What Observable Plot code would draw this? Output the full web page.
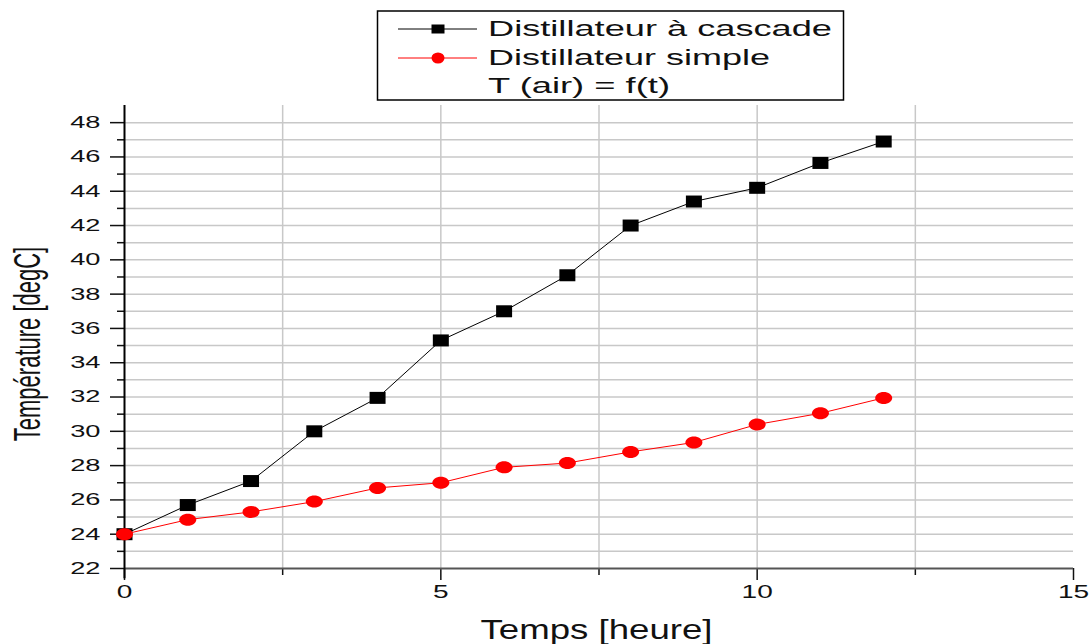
<!DOCTYPE html>
<html>
<head>
<meta charset="utf-8">
<script src="https://cdn.jsdelivr.net/npm/d3@7"></script>
<script src="https://cdn.jsdelivr.net/npm/@observablehq/plot@0.6"></script>
<style>
  html, body { margin: 0; padding: 0; background: #fff; }
  #wrap { position: relative; width: 1089px; height: 644px; overflow: hidden; }
  #legend { position: absolute; left: 0; top: 0; pointer-events: none; }
</style>
</head>
<body>
<div id="wrap"></div>
<script>
// ---- data ----
const hours = [0, 1, 2, 3, 4, 5, 6, 7, 8, 9, 10, 11, 12];
const cascade = [24.0, 25.7, 27.1, 30.0, 31.95, 35.3, 37.0, 39.1, 42.0, 43.4, 44.2, 45.65, 46.9];
const simple = [24.0, 24.85, 25.3, 25.9, 26.7, 27.0, 27.9, 28.15, 28.8, 29.35, 30.4, 31.05, 31.95];
const seriesNames = ["Distillateur à cascade", "Distillateur simple", "T (air) = f(t)"];
const xTicks = [0, 5, 10, 15];
const xMinorTicks = [2.5, 7.5, 12.5];
const yTicks = [22, 24, 26, 28, 30, 32, 34, 36, 38, 40, 42, 44, 46, 48];
const yMinorTicks = [23, 25, 27, 29, 31, 33, 35, 37, 39, 41, 43, 45, 47];
const xTitle = "Temps [heure]";
const yTitle = "Température [degC]";

const dataCascade = hours.map((h, i) => ({x: h, y: cascade[i]}));
const dataSimple = hours.map((h, i) => ({x: h, y: simple[i]}));
const gridYValues = d3.range(23, 49);
const gridXValues = [2.5, 5, 7.5, 10, 12.5];

const squareSym = {
  draw(ctx) { ctx.rect(-8, -6, 16, 12); }
};
const ellipseSym = {
  draw(ctx) {
    const rx = 8.5, ry = 6, k = 0.5523;
    ctx.moveTo(rx, 0);
    ctx.bezierCurveTo(rx, ry * k, rx * k, ry, 0, ry);
    ctx.bezierCurveTo(-rx * k, ry, -rx, ry * k, -rx, 0);
    ctx.bezierCurveTo(-rx, -ry * k, -rx * k, -ry, 0, -ry);
    ctx.bezierCurveTo(rx * k, -ry, rx, -ry * k, rx, 0);
    ctx.closePath();
  }
};

const chart = Plot.plot({
  width: 1089,
  height: 644,
  marginLeft: 124,
  marginRight: 16,
  marginTop: 105,
  marginBottom: 76,
  style: {fontFamily: "'Liberation Sans', Arial, sans-serif", fontSize: "17px", color: "#111", background: "#fff"},
  x: {domain: [0, 15], axis: null},
  y: {domain: [22, 49], axis: null},
  marks: [
    Plot.gridY(gridYValues, {stroke: "#c8c8c8", strokeOpacity: 1, strokeWidth: 1.5}),
    Plot.gridX(gridXValues, {stroke: "#c8c8c8", strokeOpacity: 1, strokeWidth: 1.5}),
    Plot.axisY(yTicks, {label: null, tickSize: 14, tickPadding: 10, stroke: "#111", strokeWidth: 1.5, fill: "#111", fontSize: 17, tickFormat: d => String(d)}),
    Plot.axisY(yMinorTicks, {label: null, tickSize: 7, stroke: "#111", strokeWidth: 1.5, fill: "none"}),
    Plot.axisX(xTicks, {label: null, tickSize: 12, tickPadding: 5, stroke: "#111", strokeWidth: 1.5, fill: "#111", fontSize: 17.5, tickFormat: d => String(d)}),
    Plot.axisX(xMinorTicks, {label: null, tickSize: 7, stroke: "#111", strokeWidth: 1.5, fill: "none"}),
    Plot.ruleY([22], {stroke: "#555", strokeWidth: 2}),
    Plot.ruleX([0], {y1: 21.4, y2: 49, stroke: "#000", strokeWidth: 2}),
    Plot.line(dataCascade, {x: "x", y: "y", stroke: "#000", strokeWidth: 1}),
    Plot.dot(dataCascade, {x: "x", y: "y", symbol: squareSym, fill: "#000", stroke: "none", r: 6}),
    Plot.line(dataSimple, {x: "x", y: "y", stroke: "#ff0000", strokeWidth: 1}),
    Plot.dot(dataSimple, {x: "x", y: "y", symbol: ellipseSym, fill: "#ff0000", stroke: "none", r: 6}),
    Plot.text([xTitle], {frameAnchor: "bottom", text: d => d, fontSize: 28, fill: "#111", lineAnchor: "bottom"}),
  ]
});

const wrap = document.getElementById("wrap");
wrap.appendChild(chart);

const svg = d3.select(chart);

// stretch tick labels horizontally (the reference is widened), keeping anchors
svg.selectAll("g[aria-label='y-axis tick label'] text, g[aria-label='x-axis tick label'] text").each(function() {
  const w = this.getComputedTextLength();
  if (w > 0) {
    this.setAttribute("textLength", (w * 1.6).toFixed(1));
    this.setAttribute("lengthAdjust", "spacingAndGlyphs");
  }
});

// x title
svg.selectAll("g[aria-label='text'] text").each(function() {
  this.setAttribute("transform", "translate(596,638)");
  this.removeAttribute("x"); this.removeAttribute("y");
  this.setAttribute("dy", "0");
  this.setAttribute("text-anchor", "middle");
  this.setAttribute("textLength", "232");
  this.setAttribute("lengthAdjust", "spacingAndGlyphs");
});

// y title (rotated)
svg.append("text")
  .attr("transform", "translate(40,344) scale(1.7,1) rotate(-90)")
  .attr("text-anchor", "middle")
  .attr("font-size", 22)
  .attr("fill", "#111")
  .text(yTitle);

// legend
const leg = d3.select(wrap).append("svg")
  .attr("id", "legend").attr("width", 1089).attr("height", 110)
  .style("font-family", "'Liberation Sans', Arial, sans-serif");
leg.append("rect").attr("x", 377.5).attr("y", 11).attr("width", 466).attr("height", 89)
  .attr("fill", "#fff").attr("stroke", "#000").attr("stroke-width", 1.5);
leg.append("line").attr("x1", 398).attr("x2", 477).attr("y1", 29).attr("y2", 29).attr("stroke", "#000").attr("stroke-width", 1);
leg.append("rect").attr("x", 431.5).attr("y", 24.5).attr("width", 13).attr("height", 9).attr("fill", "#000");
leg.append("line").attr("x1", 398).attr("x2", 477).attr("y1", 58).attr("y2", 58).attr("stroke", "#ff0000").attr("stroke-width", 1);
leg.append("ellipse").attr("cx", 438).attr("cy", 58).attr("rx", 6.5).attr("ry", 5.5).attr("fill", "#ff0000");
const legRows = [{y: 36, len: 344}, {y: 65, len: 282}, {y: 93, len: 182}];
seriesNames.forEach((name, i) => {
  leg.append("text").attr("x", 488).attr("y", legRows[i].y)
    .attr("font-size", 22).attr("fill", "#111")
    .attr("textLength", legRows[i].len).attr("lengthAdjust", "spacingAndGlyphs")
    .text(name);
});
</script>
</body>
</html>
